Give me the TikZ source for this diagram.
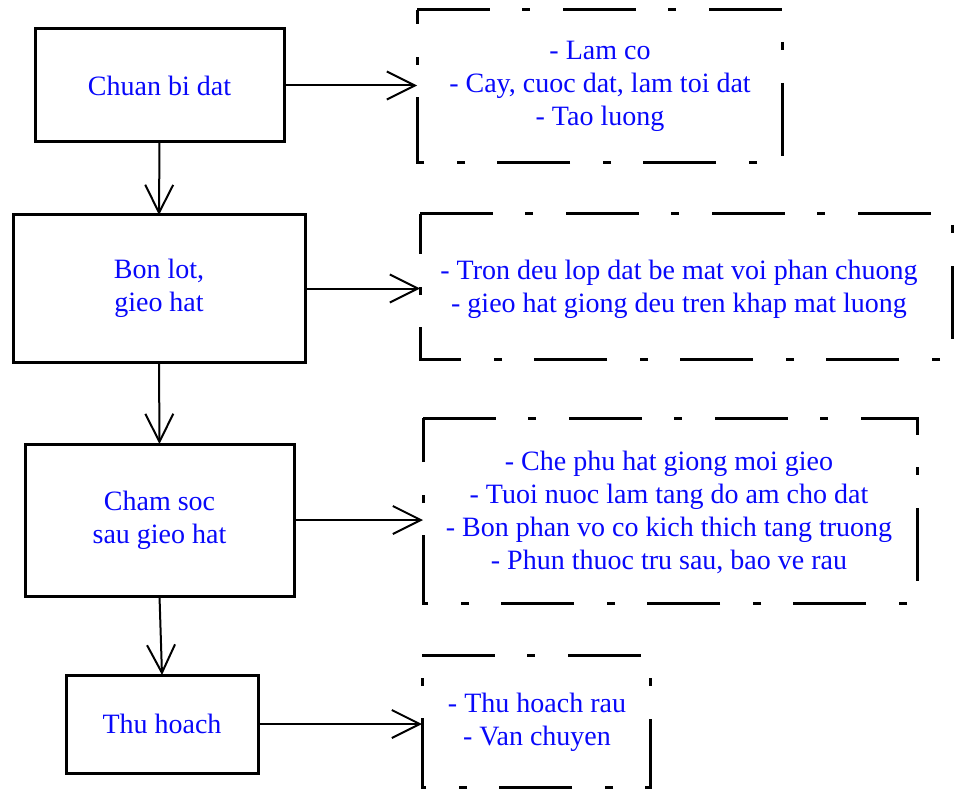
\documentclass[tikz,border=0pt]{standalone}
\usepackage{fontspec}
\setmainfont{Liberation Serif}
\usetikzlibrary{arrows.meta}
\definecolor{txtblue}{RGB}{8,8,250}
\begin{document}
\begin{tikzpicture}[x=1pt,y=-1pt,
  txt/.style={font=\fontsize{28}{33}\selectfont, text=txtblue, align=center},
  stage/.style={txt, draw, line width=3pt, rectangle, inner sep=0pt, outer sep=0pt},
  frame/.style={rectangle, inner sep=0pt, outer sep=0pt},
  note/.style={txt, inner sep=0pt},
  flow/.style={line width=2pt, -{Straight Barb[length=28pt,width=28pt,line width=2pt]}},
  dashframe/.style={line width=3pt, dash pattern=on 73pt off 32pt on 8pt off 33pt}]
\useasboundingbox (0,0) rectangle (955,794);

% process steps
\node[stage, minimum width=249pt, minimum height=113pt] (A) at (159.5,85.5) {Chuan bi dat};
\node[stage, minimum width=292pt, minimum height=147pt] (B) at (159,288.5) {Bon lot,\\ gieo hat};
\node[stage, minimum width=269pt, minimum height=152pt] (C) at (159.5,520) {Cham soc\\ sau gieo hat};
\node[stage, minimum width=192pt, minimum height=98pt] (D) at (162,724) {Thu hoach};

% detail frames
\node[frame, minimum width=365pt, minimum height=153pt] (f1) at (599.5,86.5) {};
\node[frame, minimum width=532pt, minimum height=145pt] (f2) at (686,286.5) {};
\node[frame, minimum width=494pt, minimum height=185pt] (f3) at (670,510.5) {};
\node[frame, minimum width=228pt, minimum height=132pt] (f4) at (536,721) {};
\foreach \f in {f1,f2,f3,f4}
  \draw[dashframe] (\f.north west) -- (\f.north east) -- (\f.south east) -- (\f.south west) -- cycle;

% detail texts
\node[note] (t1) at (600,86) {- Lam co\\ - Cay, cuoc dat, lam toi dat\\ - Tao luong};
\node[note] (t2) at (679,289) {- Tron deu lop dat be mat voi phan chuong\\ - gieo hat giong deu tren khap mat luong};
\node[note] (t3) at (669,512) {- Che phu hat giong moi gieo\\ - Tuoi nuoc lam tang do am cho dat\\ - Bon phan vo co kich thich tang truong\\ - Phun thuoc tru sau, bao ve rau};
\node[note] (t4) at (537,722) {- Thu hoach rau\\ - Van chuyen};

% flow between steps
\draw[flow] (A.south) -- (B.north);
\draw[flow] (B.south) -- (C.north);
\draw[flow] (C.south) -- (D.north);

% steps to their details
\draw[flow] (A.east) -- (A.east -| f1.west);
\draw[flow] (B.east) -- (B.east -| f2.west);
\draw[flow] (C.east) -- (C.east -| f3.west);
\draw[flow] (D.east) -- (D.east -| f4.west);
\end{tikzpicture}
\end{document}
